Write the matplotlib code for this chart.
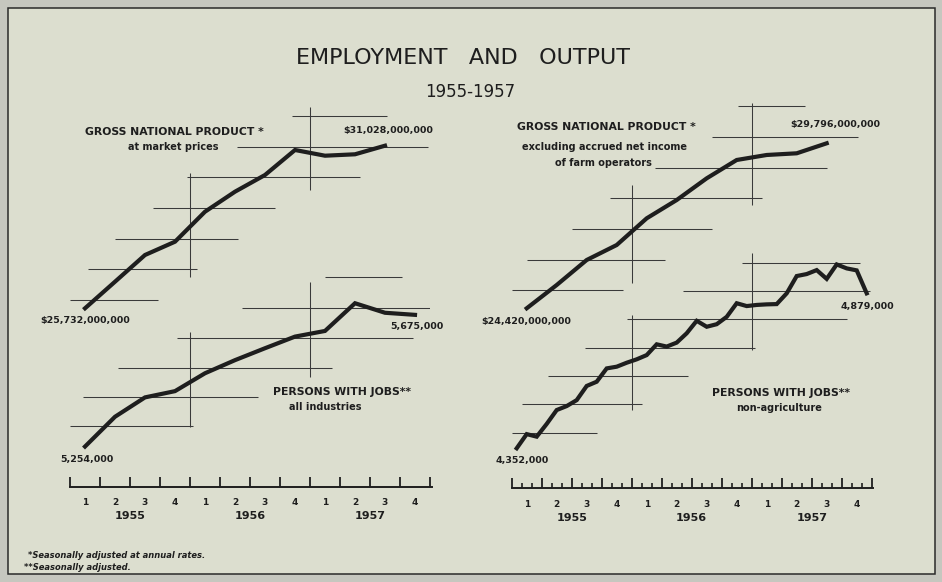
import numpy as np
import matplotlib.pyplot as plt
from matplotlib.patches import Rectangle
from matplotlib.transforms import blended_transform_factory

plt.rcParams['font.family'] = ['DejaVu Sans']

W, H = 942, 582
INK = '#1e1e1e'
GRIDC = '#3a3a3a'
PAPER = '#dcdecf'
FRAME = '#c6c7bf'

# ---- data -------------------------------------------------------------
quarter_labels = ['1', '2', '3', '4'] * 3
years = ['1955', '1956', '1957']

# $ millions, quarterly 1955 Q1 .. 1957 Q3
gnp_market = [25732, 26598, 27468, 27901, 28878, 29530, 30074, 30888,
              30702, 30748, 31028]
gnp_nonfarm = [24420, 25179, 25994, 26482, 27352, 27948, 28655, 29252,
               29415, 29470, 29796]
# thousands, quarterly 1955 Q1 .. 1957 Q4
jobs_all = [5230, 5330, 5395, 5416, 5476, 5520, 5560, 5599, 5618, 5711,
            5679, 5672]
# thousands, monthly Jan 1955 .. Dec 1957
jobs_nonag = [4345, 4395, 4386, 4431, 4480, 4494, 4515, 4565, 4580, 4627,
              4633, 4647, 4659, 4674, 4712, 4704, 4718, 4751, 4795, 4774,
              4783, 4809, 4857, 4847, 4851, 4853, 4854, 4892, 4953, 4960,
              4974, 4943, 4994, 4980, 4973, 4892]

q_x = np.arange(len(jobs_all)) + 0.5
m_x = (np.arange(len(jobs_nonag)) + 0.5) / 3.0

# ---- layout -----------------------------------------------------------
YT, YB = 95, 480          # pixel rows spanned by the plotting axes
LEFT = (70, 430)
RIGHT = (511.7, 871.7)


def px_rect(x0, x1, ytop, ybot):
    return [x0 / W, 1 - ybot / H, (x1 - x0) / W, (ybot - ytop) / H]


fig = plt.figure(figsize=(W / 100, H / 100), dpi=100)
fig.patch.set_facecolor(FRAME)
fig.patches.append(Rectangle((8 / W, 1 - 574 / H), 927 / W, 566 / H,
                             transform=fig.transFigure, facecolor=PAPER,
                             edgecolor='#2a2a2a', lw=1.1, zorder=-5))


def series_axes(xr, vref, pref, scale):
    ax = fig.add_axes(px_rect(xr[0], xr[1], YT, YB))
    ax.set_xlim(0, 12)
    ax.set_ylim(vref - (YB - pref) * scale, vref + (pref - YT) * scale)
    ax.axis('off')
    return ax


def crosses(ax, hsegs, vsegs):
    for v, a, b in hsegs:
        ax.hlines(v, a, b, color=GRIDC, lw=0.75, zorder=1)
    for x, a, b in vsegs:
        ax.vlines(x, a, b, color=GRIDC, lw=0.75, zorder=1)


def time_axis(xr, base, monthly):
    ax = fig.add_axes(px_rect(xr[0], xr[1] + 1.5, base - 15, base))
    ax.set_xlim(0, 12 * (xr[1] + 1.5 - xr[0]) / (xr[1] - xr[0]))
    ax.set_ylim(0, 1)
    ax.patch.set_visible(False)
    for s in ['top', 'left', 'right']:
        ax.spines[s].set_visible(False)
    ax.spines['bottom'].set_linewidth(1.4)
    ax.spines['bottom'].set_color(INK)
    ax.set_yticks([])
    ax.set_xticks(np.arange(13))
    ax.set_xticklabels([])
    ax.tick_params(axis='x', which='major', direction='in', length=7,
                   width=1.3, color=INK)
    if monthly:
        ax.set_xticks(np.arange(37) / 3.0, minor=True)
        ax.tick_params(axis='x', which='minor', direction='in', length=3.5,
                       width=1.2, color=INK)
    tr = blended_transform_factory(ax.transData, fig.transFigure)
    for q, lab in zip(q_x, quarter_labels):
        ax.text(q, 1 - (base + 16) / H, lab, transform=tr, ha='center',
                va='center', fontsize=6.5, fontweight='bold', color=INK)
    for i, y in enumerate(years):
        ax.text(2 + 4 * i, 1 - (base + 29.5) / H, y, transform=tr,
                ha='center', va='center', fontsize=8, fontweight='bold',
                color=INK)


# left panel
ax = series_axes(LEFT, 25732, 308.3, 32.57)
crosses(ax,
        [(26000, 0, 2.94), (27000, 0.61, 4.22), (28000, 1.5, 5.61),
         (29000, 2.78, 6.83), (30000, 3.89, 9.67), (31000, 5.56, 11.94),
         (32000, 7.39, 10.56)],
        [(4, 26751, 30139), (8, 29585, 32288)])
ax.plot(q_x[:len(gnp_market)], gnp_market, color=INK, lw=3.0,
        solid_joinstyle='miter', zorder=3)

ax = series_axes(LEFT, 5300, 425.7, 3.356)
crosses(ax,
        [(5300, 0, 4.11), (5397, 0.44, 6.28), (5495, 1.61, 8.72),
         (5595, 3.56, 11.44), (5694, 5.72, 12.0), (5800, 8.5, 11.06)],
        [(4, 5297, 5615), (8, 5464, 5783)])
ax.plot(q_x, jobs_all, color=INK, lw=3.0, solid_joinstyle='miter', zorder=3)

# right panel
ax = series_axes(RIGHT, 24420, 308.3, 32.58)
crosses(ax,
        [(25000, 0, 3.72), (26000, 0.5, 5.11), (27000, 2.0, 6.67),
         (28000, 3.28, 8.33), (29000, 4.78, 10.5), (30000, 6.67, 11.55),
         (31000, 7.55, 9.78)],
        [(4, 25235, 28437), (8, 27786, 31109)])
ax.plot(q_x[:len(gnp_nonfarm)], gnp_nonfarm, color=INK, lw=3.0,
        solid_joinstyle='miter', zorder=3)

ax = series_axes(RIGHT, 4400, 432.7, 3.53)
crosses(ax,
        [(4400, 0, 2.83), (4500, 0.33, 4.33), (4600, 1.22, 5.89),
         (4700, 2.44, 8.11), (4800, 3.83, 11.17), (4900, 5.72, 11.94),
         (5000, 7.67, 11.61)],
        [(4, 4480, 4815), (8, 4692, 5033)])
ax.plot(m_x, jobs_nonag, color=INK, lw=3.0, solid_joinstyle='miter',
        zorder=3)

time_axis(LEFT, 486.7, monthly=False)
time_axis(RIGHT, 488.3, monthly=True)


# ---- text -------------------------------------------------------------
def label(x, y, s, size=6.8, weight='bold', style='normal', ha='center'):
    fig.text(x / W, 1 - y / H, s, ha=ha, va='center', fontsize=size,
             fontweight=weight, fontstyle=style, color=INK)


label(463, 58, 'EMPLOYMENT   AND   OUTPUT', size=16, weight='normal')
label(470, 92, '1955-1957', size=12, weight='normal')

label(174, 131.7, 'GROSS NATIONAL PRODUCT *', size=7.8)
label(173, 146.7, 'at market prices', size=7)
label(388.5, 130.7, '$31,028,000,000')
label(85.5, 320, '$25,732,000,000')
label(342, 392.3, 'PERSONS WITH JOBS**', size=7.8)
label(325, 407.3, 'all industries', size=7)
label(417, 326.7, '5,675,000')
label(87, 459.3, '5,254,000')

label(606.7, 126.7, 'GROSS NATIONAL PRODUCT *', size=7.8)
label(605, 147.3, 'excluding accrued net income', size=7)
label(603, 162.7, 'of farm operators', size=7)
label(835, 125, '$29,796,000,000')
label(526.5, 321.7, '$24,420,000,000')
label(867.5, 306, '4,879,000')
label(781, 392.7, 'PERSONS WITH JOBS**', size=7.8)
label(779, 407.7, 'non-agriculture', size=7)
label(522.5, 460.7, '4,352,000')

label(28, 556, '*Seasonally adjusted at annual rates.', size=6,
      style='italic', ha='left')
label(24, 567, '**Seasonally adjusted.', size=6, style='italic', ha='left')

fig.savefig('out.png', dpi=100, facecolor=fig.get_facecolor())
